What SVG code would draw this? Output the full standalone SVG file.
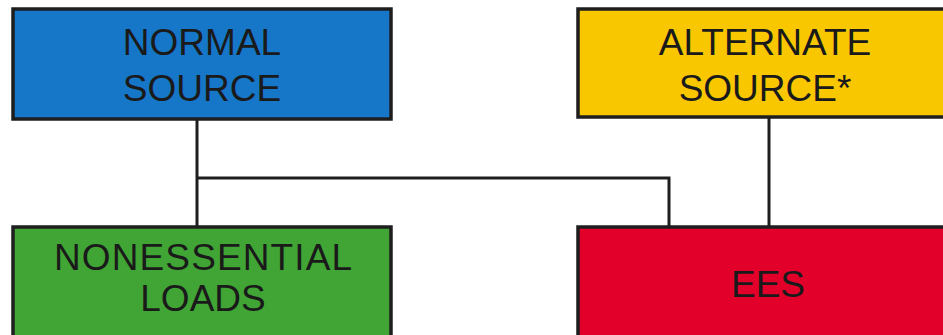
<svg xmlns="http://www.w3.org/2000/svg" width="943" height="335" viewBox="0 0 943 335">
<style>
.box{stroke:#1e1e1e;stroke-width:3.5}
.t{font-family:"Liberation Sans",Arial,sans-serif;font-size:37px;fill:#1a1a1a;text-anchor:middle}
.c{stroke:#1e1e1e;stroke-width:3;fill:none}
</style>
<rect width="943" height="335" fill="#fff"/>
<g id="connectors">
<path class="c" d="M197,120 V226"/>
<path class="c" d="M197,178 H669 V226"/>
<path class="c" d="M769,118 V226"/>
</g>
<g id="normal-source">
<rect class="box" x="13" y="9" width="378" height="110" fill="#1677c9"/>
<text class="t" x="202" y="55">NORMAL</text>
<text class="t" x="202" y="101">SOURCE</text>
</g>
<g id="alternate-source">
<rect class="box" x="578" y="9" width="380" height="108" fill="#f8c700"/>
<text class="t" x="765" y="55">ALTERNATE</text>
<text class="t" x="765" y="101">SOURCE*</text>
</g>
<g id="nonessential-loads">
<rect class="box" x="13" y="227" width="378" height="120" fill="#40a535"/>
<text class="t" x="203" y="270" textLength="298" lengthAdjust="spacing">NONESSENTIAL</text>
<text class="t" x="203" y="311">LOADS</text>
</g>
<g id="ees">
<rect class="box" x="578" y="227" width="380" height="120" fill="#e2002a"/>
<text class="t" x="768" y="297">EES</text>
</g>
</svg>
